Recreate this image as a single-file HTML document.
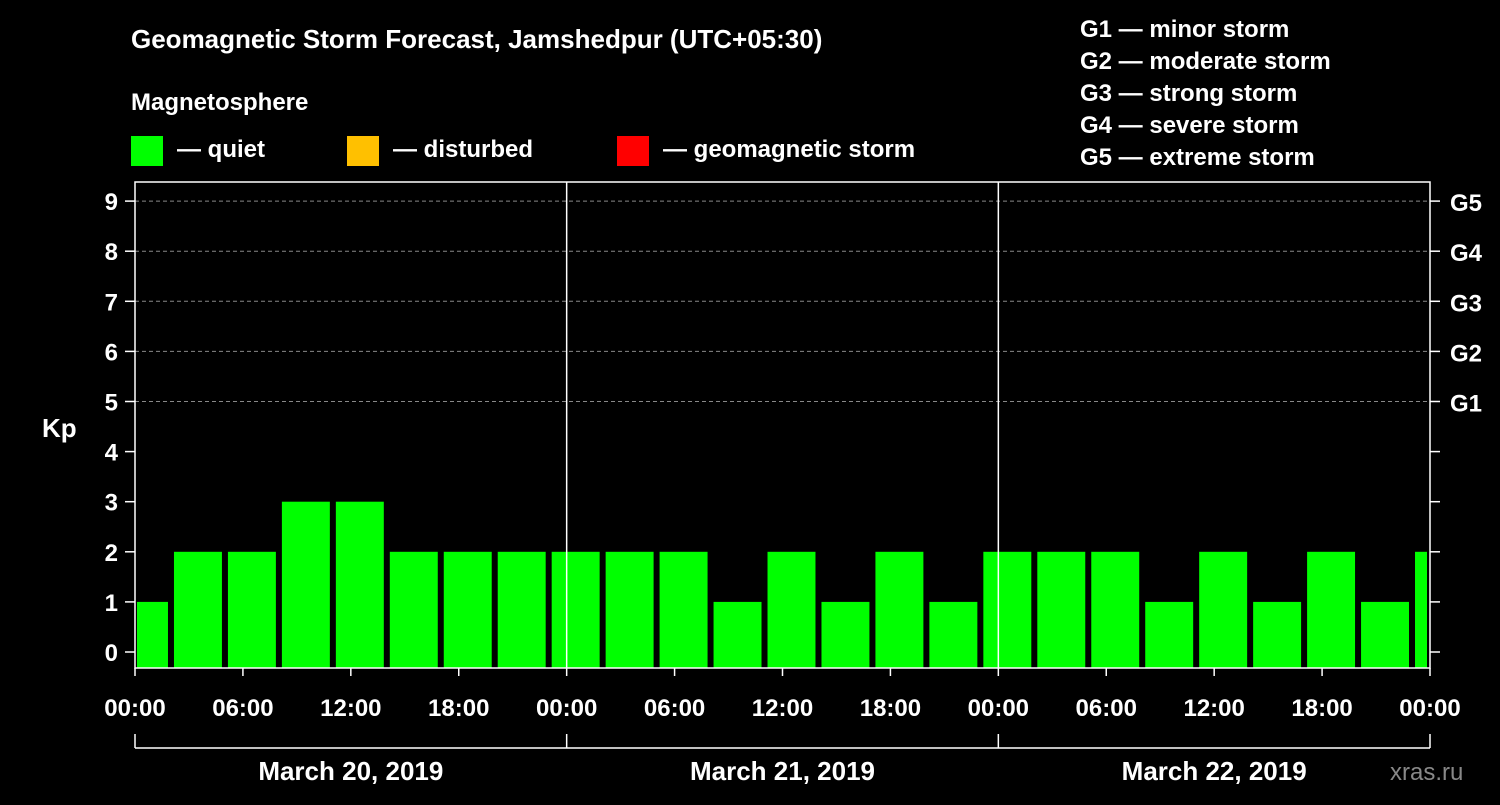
<!DOCTYPE html>
<html><head><meta charset="utf-8"><style>
body{margin:0;background:#000;width:1500px;height:800px;overflow:hidden}
svg text{font-family:"Liberation Sans",Arial,sans-serif;font-weight:bold;fill:#fff}
</style></head><body>
<svg id="c" width="1500" height="800">
<rect width="1500" height="800" fill="#000"/>
<text x="131" y="48" font-size="26">Geomagnetic Storm Forecast, Jamshedpur (UTC+05:30)</text>
<text x="131" y="110" font-size="24">Magnetosphere</text>
<g><rect x="131" y="136" width="32" height="30" fill="#00ff00"/><text x="177" y="157" font-size="24">— quiet</text></g>
<g><rect x="347" y="136" width="32" height="30" fill="#ffc000"/><text x="393" y="157" font-size="24">— disturbed</text></g>
<g><rect x="617" y="136" width="32" height="30" fill="#ff0000"/><text x="663" y="157" font-size="24">— geomagnetic storm</text></g>
<g font-size="24">
<text x="1080" y="37">G1 — minor storm</text><text x="1080" y="69">G2 — moderate storm</text><text x="1080" y="101">G3 — strong storm</text><text x="1080" y="133">G4 — severe storm</text><text x="1080" y="165">G5 — extreme storm</text></g>
<text x="42" y="437" font-size="26">Kp</text>
<text x="1390" y="780" font-size="24" fill="#888" style="fill:#888;font-weight:normal">xras.ru</text>
<g id="plot"></g>
</svg>
<script>
const values=[1,2,2,3,3,2,2,2,2,2,2,1,2,1,2,1,2,2,2,1,2,1,2,1,2];
const yTicks=[0,1,2,3,4,5,6,7,8,9];
const gLabels=["G1","G2","G3","G4","G5"];
const xLabels=["00:00","06:00","12:00","18:00","00:00","06:00","12:00","18:00","00:00","06:00","12:00","18:00","00:00"];
const days=["March 20, 2019","March 21, 2019","March 22, 2019"];
const X0=135,X1=1430,HOURS=72,offset=2;
const x=h=>X0+(X1-X0)*h/HOURS;
const y=v=>652-v*50.1;
const ns="http://www.w3.org/2000/svg",g=document.getElementById('plot');
function mk(t,a,txt){const e=document.createElementNS(ns,t);for(const k in a)e.setAttribute(k,a[k]);if(txt!=null)e.textContent=txt;g.appendChild(e);return e;}
yTicks.forEach(v=>{
 if(v>=5){const l=mk('line',{x1:X0,x2:X1,y1:y(v),y2:y(v),stroke:'#888','stroke-dasharray':'4,3'});}
 const t=mk('text',{x:118,y:y(v)+9,'font-size':24,'text-anchor':'end'},v);
 
 
 mk('line',{x1:125,x2:X0,y1:y(v),y2:y(v),stroke:'#fff','stroke-width':1.5});
 mk('line',{x1:X1,x2:1440,y1:y(v),y2:y(v),stroke:'#fff','stroke-width':1.5});
});
gLabels.forEach((s,i)=>{const t=mk('text',{x:1450,y:y(5+i)+10,'font-size':24},s);
 
 });
values.forEach((v,i)=>{
 let h0=i===0?0:offset+(i-1)*3, h1=Math.min(offset+i*3,HOURS);
 let a=x(h0)+(i===0?2:3), b=x(h1)-3;
 const r=mk('rect',{x:a,y:y(v),width:Math.max(b-a,1),height:y(-0.32)-y(v),fill:v>=5?'#ff0000':v>=4?'#ffc000':'#00ff00'});
 
 
});
const fr=mk('rect',{x:X0,y:182,width:X1-X0,height:486,fill:'none',stroke:'#fff','stroke-width':1.5});

[24,48].forEach(h=>mk('line',{x1:x(h),x2:x(h),y1:182,y2:668,stroke:'#fff','stroke-width':1.5}));
xLabels.forEach((s,i)=>{const h=i*6;mk('line',{x1:x(h),x2:x(h),y1:668,y2:676,stroke:'#fff','stroke-width':1.5});
 const t=mk('text',{x:x(h),y:716,'font-size':24,'text-anchor':'middle'},s);
 
 });
mk('line',{x1:X0,x2:X1,y1:748,y2:748,stroke:'#fff','stroke-width':1.5});
[0,24,48,72].forEach(h=>mk('line',{x1:x(h),x2:x(h),y1:734,y2:748,stroke:'#fff','stroke-width':1.5}));
days.forEach((d,i)=>{const t=mk('text',{x:x(i*24+12),y:780,'font-size':26,'text-anchor':'middle'},d);
 
 });
</script>
</body></html>
